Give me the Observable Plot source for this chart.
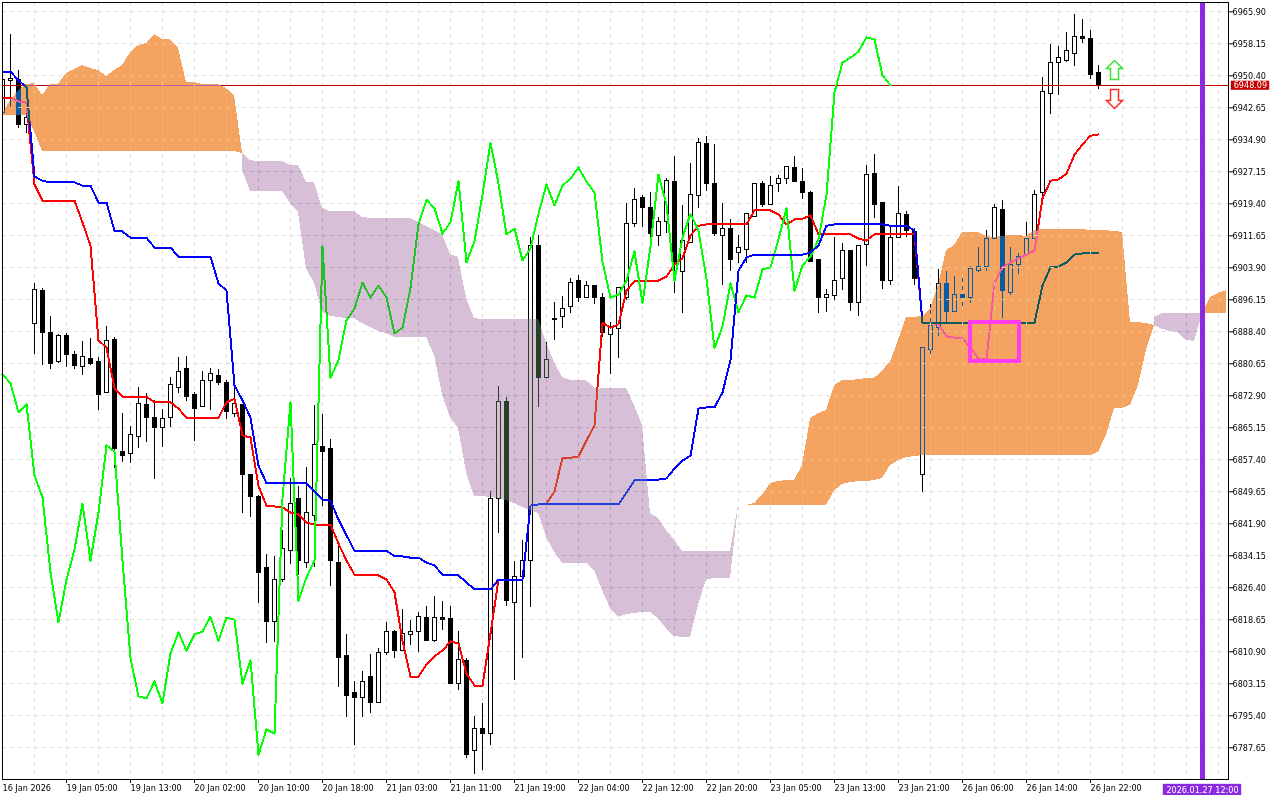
<!DOCTYPE html>
<html>
<head>
<meta charset="utf-8">
<script src="https://cdn.jsdelivr.net/npm/d3@7"></script>
<script src="https://cdn.jsdelivr.net/npm/@observablehq/plot@0.6"></script>
<style>html,body{margin:0;padding:0;background:#fff}svg{display:block}</style>
</head>
<body>
<div id="chart"></div>
<script>
const opens=[6941.5,6949.1,6949.3,6938.6,6890.2,6898.4,6888.2,6881.0,6887.3,6882.9,
6879.8,6881.9,6881.0,6873.5,6886.3,6859.4,6858.9,6863.0,6870.6,6867.6,
6865.2,6867.6,6874.9,6879.3,6873.2,6870.1,6876.4,6877.8,6876.1,6868.6,
6870.6,6853.8,6848.5,6831.1,6818.0,6828.2,6835.2,6847.8,6832.5,6843.9,
6860.6,6859.9,6832.3,6809.8,6800.8,6799.8,6804.9,6798.6,6810.7,6815.8,
6811.2,6814.9,6815.6,6819.2,6813.4,6819.2,6818.9,6803.2,6808.6,6786.8,
6792.3,6791.1,6847.8,6871.3,6822.8,6828.9,6833.0,6909.3,6877.3,6891.5,
6891.9,6894.3,6900.6,6896.7,6899.4,6896.7,6887.7,6889.2,6896.7,6914.6,
6920.9,6918.5,6911.7,6914.9,6924.8,6903.0,6909.8,6921.2,6934.0,6924.3,
6911.5,6913.2,6907.4,6908.3,6916.3,6924.3,6919.2,6924.1,6925.3,6928.0,
6924.8,6922.1,6905.9,6896.7,6897.0,6901.3,6907.9,6895.3,6909.5,6926.7,
6919.5,6900.8,6911.2,6916.8,6912.5,6853.6,6884.1,6889.4,6899.9,6893.1,
6897.2,6896.7,6903.2,6904.0,6910.8,6918.0,6897.9,6904.7,6906.9,6910.8,
6921.9,6946.1,6953.4,6954.1,6955.8,6959.7,6959.4,6951.2];
const highs=[6950.0,6960.4,6951.7,6941.3,6900.1,6898.9,6892.1,6887.7,6888.0,6883.6,
6886.1,6886.8,6882.2,6889.7,6887.0,6868.6,6865.5,6874.9,6873.5,6871.8,
6869.6,6877.3,6882.2,6882.4,6873.7,6878.8,6879.5,6879.3,6876.6,6875.2,
6870.6,6853.8,6848.8,6834.5,6834.0,6840.3,6852.9,6851.0,6855.5,6870.6,
6868.4,6862.3,6837.1,6815.1,6803.7,6806.1,6810.2,6811.7,6818.0,6816.1,
6821.1,6818.5,6820.4,6821.9,6824.3,6823.1,6821.9,6815.8,6809.3,6795.2,
6798.4,6849.7,6875.2,6872.5,6832.8,6837.9,6911.2,6911.7,6885.8,6895.5,
6897.0,6901.3,6902.0,6900.6,6899.6,6897.7,6890.6,6899.1,6919.5,6923.1,
6921.4,6922.1,6916.1,6925.5,6930.9,6919.0,6929.2,6935.2,6935.7,6933.8,
6919.5,6915.6,6911.7,6917.0,6924.3,6924.8,6926.0,6926.3,6928.2,6930.9,
6928.0,6922.4,6905.9,6898.6,6911.2,6909.8,6908.1,6909.1,6928.7,6931.3,
6919.5,6914.1,6923.6,6917.5,6913.4,6884.4,6895.0,6903.5,6903.0,6901.8,
6901.3,6904.2,6908.8,6912.9,6919.2,6920.2,6908.8,6907.4,6914.9,6922.6,
6950.0,6958.0,6957.5,6960.9,6965.3,6964.0,6961.4,6952.9];
const lows=[6940.8,6942.7,6937.6,6936.4,6882.9,6880.2,6879.3,6880.7,6879.8,6879.3,
6877.8,6880.2,6869.3,6873.5,6855.3,6856.7,6856.5,6860.1,6861.6,6852.6,
6860.4,6865.2,6873.5,6871.5,6861.8,6870.1,6869.3,6875.4,6867.2,6867.6,
6844.4,6843.4,6822.6,6812.9,6813.2,6827.7,6832.0,6829.4,6831.1,6831.3,
6846.1,6826.7,6802.2,6795.0,6788.2,6795.0,6795.9,6798.6,6810.0,6809.3,
6811.2,6812.4,6810.7,6813.6,6813.2,6816.1,6803.2,6801.5,6785.1,6781.2,
6782.2,6788.2,6839.5,6821.9,6803.9,6809.3,6821.6,6870.1,6877.3,6886.3,
6889.2,6892.8,6895.5,6896.7,6895.0,6887.0,6878.1,6881.9,6896.0,6913.7,
6913.7,6911.2,6909.1,6912.2,6897.7,6892.8,6909.8,6918.3,6922.4,6911.5,
6899.6,6903.0,6904.9,6904.9,6916.3,6918.5,6919.2,6922.1,6924.1,6924.6,
6920.4,6905.4,6892.8,6893.1,6896.0,6898.4,6893.3,6892.1,6904.2,6915.8,
6898.6,6899.6,6911.0,6911.2,6899.6,6849.5,6881.9,6887.3,6890.6,6893.1,
6894.3,6895.3,6902.8,6903.0,6910.8,6891.6,6897.2,6902.3,6906.9,6910.8,
6920.9,6941.0,6945.6,6953.6,6952.6,6958.2,6949.5,6947.1];
const closes=[6949.5,6949.6,6938.6,6940.3,6898.6,6888.2,6880.7,6887.5,6882.7,6880.0,
6882.2,6880.7,6873.2,6886.1,6859.9,6858.4,6863.5,6870.8,6867.6,6865.0,
6867.2,6875.4,6878.6,6872.7,6869.6,6876.4,6878.1,6875.9,6868.9,6870.8,
6853.6,6848.3,6830.1,6818.0,6828.4,6835.7,6846.8,6833.0,6844.6,6860.9,
6859.4,6833.0,6809.3,6800.1,6799.6,6803.7,6798.4,6810.5,6815.6,6811.2,
6815.1,6815.8,6819.4,6813.6,6819.2,6818.7,6803.2,6808.8,6786.0,6792.1,
6791.1,6848.0,6871.3,6823.3,6828.9,6833.0,6909.1,6877.3,6881.5,6891.2,
6894.0,6900.3,6896.7,6899.6,6896.7,6888.0,6889.4,6899.1,6914.4,6920.4,
6918.3,6912.2,6914.9,6925.0,6905.2,6910.3,6921.6,6934.2,6924.3,6912.0,
6913.4,6905.7,6908.6,6917.0,6924.1,6919.0,6923.8,6925.5,6928.2,6924.8,
6922.1,6905.4,6896.7,6897.4,6900.8,6907.9,6895.3,6909.1,6926.5,6919.2,
6900.8,6911.2,6917.0,6912.9,6901.3,6884.4,6889.7,6900.1,6893.1,6897.2,
6896.7,6903.5,6904.0,6910.8,6918.3,6898.2,6904.5,6906.6,6910.8,6921.6,
6946.4,6953.6,6954.8,6956.3,6959.7,6959.2,6950.5,6948.09];

const tenkan=[6945.1,6945.1,6944.2,6943.9,6924.1,6920.2,6920.2,6920.2,6920.2,6920.2,
6914.9,6909.3,6886.3,6884.6,6874.7,6872.7,6872.7,6872.7,6872.7,6871.3,
6871.3,6871.3,6869.8,6867.6,6867.6,6867.6,6867.6,6867.6,6871.3,6872.2,
6863.3,6862.8,6851.0,6846.3,6846.1,6845.9,6844.6,6844.2,6842.2,6841.7,
6841.7,6841.7,6837.1,6833.0,6829.6,6829.6,6829.4,6829.4,6828.4,6825.3,
6813.6,6804.9,6804.9,6807.8,6809.8,6811.2,6813.4,6812.9,6805.6,6802.7,
6802.7,6815.3,6828.4,6828.4,6828.4,6828.4,6846.3,6846.6,6846.8,6849.7,
6857.9,6857.9,6858.2,6862.1,6865.7,6890.6,6889.4,6890.2,6898.4,6900.6,
6900.8,6900.8,6900.8,6901.8,6904.7,6906.2,6911.7,6914.1,6914.4,6914.4,
6914.4,6914.4,6914.4,6914.4,6917.8,6917.8,6917.8,6916.8,6914.4,6915.6,
6915.8,6916.6,6912.0,6912.0,6912.0,6912.0,6912.0,6911.0,6910.5,6912.0,
6912.0,6912.0,6912.0,6912.0,6912.0,6890.6,6890.6,6890.2,6887.3,6887.0,
6886.8,6884.6,6881.9,6881.7,6900.3,6904.0,6905.2,6906.2,6907.1,6908.1,
6920.7,6925.0,6925.3,6926.7,6931.3,6933.8,6935.9,6936.2];
const kijun=[6951.4,6951.4,6949.3,6947.6,6926.0,6925.0,6924.6,6924.6,6924.6,6924.6,
6923.8,6923.8,6919.7,6919.7,6912.9,6912.7,6911.2,6911.2,6911.2,6908.8,
6908.8,6908.8,6906.6,6906.6,6906.6,6906.6,6906.6,6900.1,6898.4,6875.4,
6871.8,6867.6,6856.0,6851.7,6851.7,6851.7,6851.7,6851.7,6851.7,6849.7,
6847.8,6847.5,6842.9,6839.1,6835.4,6835.4,6835.4,6835.4,6835.4,6834.0,
6834.0,6833.7,6833.7,6832.5,6831.8,6829.6,6829.4,6829.4,6827.7,6826.0,
6826.0,6826.0,6828.4,6828.4,6828.4,6828.4,6846.3,6846.6,6846.6,6846.6,
6846.6,6846.6,6846.6,6846.6,6846.6,6846.6,6846.6,6846.6,6849.5,6852.4,
6852.6,6852.6,6852.6,6852.9,6855.3,6857.2,6858.4,6869.8,6870.1,6870.1,
6873.7,6881.5,6903.2,6906.4,6907.1,6907.1,6907.1,6907.1,6907.1,6907.1,
6907.1,6907.6,6909.3,6914.1,6914.4,6914.4,6914.4,6914.4,6914.4,6914.4,
6914.4,6914.1,6914.1,6914.1,6912.9,6890.6,6890.6,6890.6,6890.6,6890.6,
6890.6,6890.6,6890.6,6890.6,6890.6,6890.6,6890.6,6890.6,6890.6,6890.6,
6899.6,6904.0,6904.2,6905.2,6907.1,6907.4,6907.4,6907.4];

const sandStart=0;
const sandUpper=[6941.0,6944.4,6946.8,6948.3,6948.5,6945.6,6948.3,6948.3,6951.0,6951.9,6952.9,6952.2,6951.7,6950.2,6951.7,6952.9,6956.0,6957.7,6958.2,6960.4,6959.2,6959.2,6957.0,6948.8,6948.8,6948.3,6948.3,6948.3,6947.3,6945.6,6931.6];
const sandLower=[6940.8,6940.8,6940.8,6940.8,6936.9,6932.1,6932.1,6932.1,6932.1,6932.1,6932.1,6932.1,6932.1,6932.1,6932.1,6932.1,6932.1,6932.1,6932.1,6932.1,6932.1,6932.1,6932.1,6932.1,6932.1,6932.1,6932.1,6932.1,6932.1,6932.1,6931.6];
const thistleStart=30;
const thistleUpper=[6931.6,6929.9,6929.6,6929.6,6929.6,6929.6,6928.7,6928.7,6924.6,6924.6,6918.3,6917.5,6917.5,6917.5,6917.5,6916.1,6915.8,6915.8,6915.8,6915.8,6915.8,6915.8,6914.9,6913.9,6912.9,6912.0,6907.1,6906.4,6896.5,6891.6,
6891.4,6891.4,6891.4,6891.4,6891.4,6891.4,6891.4,6891.4,6885.6,6881.0,6877.3,6876.6,6876.6,6876.6,6874.7,6874.7,6874.7,6874.7,6874.7,6870.6,6865.7,6844.4,6843.2,6840.3,6837.9,6835.2,6835.2,6835.2,6835.2,6835.2,6835.2,6835.2,6846.3];
const thistleLower=[6927.5,6922.4,6922.4,6922.4,6922.4,6922.4,6919.5,6917.3,6903.7,6900.1,6893.1,6892.1,6891.9,6891.6,6891.6,6890.4,6889.4,6888.5,6888.0,6887.0,6887.0,6887.0,6887.0,6887.0,6882.7,6873.0,6867.6,6865.0,6854.3,6848.5,
6848.5,6848.3,6848.0,6847.5,6846.8,6845.9,6845.1,6844.4,6838.6,6835.0,6832.3,6832.3,6832.3,6832.3,6830.6,6825.7,6821.4,6819.2,6819.9,6820.2,6820.4,6820.4,6818.9,6816.5,6814.6,6814.4,6814.4,6822.1,6828.4,6828.6,6828.6,6828.6,6846.3];
const sand2Start=92;
const sand2Upper=[6846.3,6846.3,6846.8,6848.8,6851.7,6852.1,6852.4,6852.4,6856.0,6867.4,6868.6,6869.3,6875.4,6876.6,6876.6,6876.8,6877.1,6877.1,6879.0,6881.0,6886.3,6891.9,6891.9,6892.1,6894.0,6899.6,6908.1,6909.3,6912.5,6912.5,6912.5,6911.5,6911.2,6911.5,6911.7,6911.7,6911.5,6912.9,6913.2,6913.2,6913.2,6913.2,6913.2,6913.2,6912.9,6912.9,6912.9,6912.7,6912.5,6890.6,6890.6,6890.4,6889.9];
const sand2Lower=[6846.3,6846.3,6846.3,6846.3,6846.3,6846.3,6846.3,6846.3,6846.3,6846.3,6846.3,6846.3,6849.9,6851.4,6851.9,6852.1,6852.1,6852.4,6852.9,6856.0,6857.2,6857.9,6858.2,6858.4,6858.4,6858.4,6858.4,6858.4,6858.4,6858.4,6858.4,6858.4,6858.4,6858.4,6858.4,6858.4,6858.4,6858.4,6858.4,6858.4,6858.4,6858.4,6858.4,6858.4,6858.4,6859.2,6863.3,6869.8,6869.8,6870.6,6875.4,6883.9,6889.9];
const thistle2Start=144;
const thistle2Upper=[6891.9,6892.8,6892.8,6892.8,6892.8,6892.8,6892.8];
const thistle2Lower=[6889.9,6889.0,6888.5,6888.2,6886.3,6886.1,6892.8];
const sand3Start=150;
const sand3Upper=[6892.8,6896.7,6897.7,6898.4];
const sand3Lower=[6892.8,6892.8,6892.8,6892.8];

const priceTicks=[6965.90,6958.15,6950.40,6942.65,6934.90,6927.15,6919.40,6911.65,6903.90,6896.15,6888.40,6880.65,6872.90,6865.15,6857.40,6849.65,6841.90,6834.15,6826.40,6818.65,6810.90,6803.15,6795.40,6787.65];
const timeTickBars=[0,8,16,24,32,40,48,56,64,72,80,88,96,104,112,120,128,136];
const timeTickLabels=["16 Jan 2026","19 Jan 05:00","19 Jan 13:00","20 Jan 02:00","20 Jan 10:00","20 Jan 18:00","21 Jan 03:00","21 Jan 11:00","21 Jan 19:00","22 Jan 04:00","22 Jan 12:00","22 Jan 20:00","23 Jan 05:00","23 Jan 13:00","23 Jan 21:00","26 Jan 06:00","26 Jan 14:00","26 Jan 22:00"];
const gridBars=d3.range(4,153,4);
const lastPrice=6948.09;
const cursorBar=150;
const cursorLabel="2026.01.27 12:00";

const candles=opens.map((o,i)=>({bar:i,open:o,high:highs[i],low:lows[i],close:closes[i]}));
const series=a=>a.map((v,i)=>({bar:i,value:v}));
const chikou=series(closes.slice(26));
const cloud=(start,up,lo)=>up.map((u,i)=>({bar:start+i,upper:u,lower:lo[i]}));
const XOR_SAND="#0B5B9F", XOR_THISTLE="#274027";
const clouds=[
  [cloud(sandStart,sandUpper,sandLower),XOR_SAND,"kumo-sand"],
  [cloud(thistleStart,thistleUpper,thistleLower),XOR_THISTLE,"kumo-thistle"],
  [cloud(sand2Start,sand2Upper,sand2Lower),XOR_SAND,"kumo-sand"],
  [cloud(thistle2Start,thistle2Upper,thistle2Lower),XOR_THISTLE,"kumo-thistle"],
  [cloud(sand3Start,sand3Upper,sand3Lower),XOR_SAND,"kumo-sand"]
];
const arrow=(pts)=>({draw(ctx,size){const r=Math.sqrt(size/Math.PI);pts.forEach(([a,b],k)=>k?ctx.lineTo(a*r,b*r):ctx.moveTo(a*r,b*r));ctx.closePath();}});
const upArrow=arrow([[0,-.95],[.8,-.15],[.4,-.15],[.4,.95],[-.4,.95],[-.4,-.15],[-.8,-.15]]);
const downArrow=arrow([[0,.95],[.8,.15],[.4,.15],[.4,-.95],[-.4,-.95],[-.4,.15],[-.8,.15]]);
const crisp={shapeRendering:"crispEdges"};
const gridOver={stroke:"#EDBD79",strokeDasharray:"4,4",mixBlendMode:"lighten",ariaDescription:"grid-over-sand",...crisp};

const chart=Plot.plot({
  width:1280,height:800,marginLeft:2,marginTop:2,marginRight:52,marginBottom:21,
  style:{background:"#fff",fontFamily:"'DejaVu Sans Condensed','DejaVu Sans'",fontSize:"9px",color:"#000"},
  x:{domain:[0,153.25],range:[2,1228],axis:null},
  y:{domain:[6779.97,6968.16],range:[779,2],axis:null},
  marks:[
    Plot.frame({fill:"#fff",stroke:null}),
    Plot.ruleX(gridBars,{x:d=>d,stroke:"#e2e2e2",strokeDasharray:"4,4",...crisp}),
    Plot.ruleY(priceTicks,{y:d=>d,stroke:"#e2e2e2",strokeDasharray:"4,4",...crisp}),
    Plot.ruleX(candles,{x:"bar",y1:"low",y2:"high",stroke:"#000",clip:true,...crisp}),
    Plot.rect(candles,{x1:d=>d.bar-.25,x2:d=>d.bar+.25,y1:"open",y2:"close",fill:d=>d.close<d.open?"#000":"#fff",stroke:"#000",clip:true,...crisp}),
    Plot.ruleY([lastPrice],{stroke:"#c00000",...crisp}),
    Plot.line(series(tenkan),{x:"bar",y:"value",stroke:"#ff0000",strokeWidth:2,...crisp}),
    Plot.line(chikou,{x:"bar",y:"value",stroke:"#00ff00",strokeWidth:2,...crisp}),
    Plot.line(series(kijun),{x:"bar",y:"value",stroke:"#0000ff",strokeWidth:2,...crisp}),
    ...clouds.map(([rows,fill,ariaDescription])=>Plot.areaY(rows,{x:"bar",y1:"lower",y2:"upper",fill,ariaDescription,mixBlendMode:"difference",...crisp})),
    Plot.ruleX(gridBars,{x:d=>d,...gridOver}),
    Plot.ruleY(priceTicks,{y:d=>d,...gridOver}),
    Plot.rect([{x1:121,x2:127.1,y1:6881.2,y2:6890.6}],{x1:"x1",x2:"x2",y1:"y1",y2:"y2",fill:"none",stroke:"#ff3cf0",strokeWidth:4,...crisp}),
    Plot.dot([{bar:139,price:6951.8}],{x:"bar",y:"price",r:10,symbol:upArrow,fill:"#fff",stroke:"#3ae23a"}),
    Plot.dot([{bar:139,price:6944.8}],{x:"bar",y:"price",r:10,symbol:downArrow,fill:"#fff",stroke:"#ff2a2a"}),
    Plot.ruleX([cursorBar],{stroke:"#8a2be2",strokeWidth:5,...crisp}),
    Plot.frame({stroke:"#000",...crisp}),
    Plot.axisY({anchor:"right",ticks:priceTicks,tickFormat:d=>d.toFixed(2),tickSize:4,tickPadding:0,stroke:"#000",fill:"#000",label:null}),
    Plot.axisX({anchor:"bottom",ticks:timeTickBars.slice(1),tickFormat:()=>"",tickSize:4,stroke:"#000",label:null}),
    Plot.text(timeTickLabels,{x:(d,i)=>timeTickBars[i],frameAnchor:"bottom",dy:11,dx:0,textAnchor:"start",text:d=>d,fill:"#000"}),
    Plot.rect([lastPrice],{x1:153.6,x2:158.4,y1:6946.9,y2:6949.1,fill:"#c40000"}),
    Plot.text([lastPrice],{x:153.9,y:lastPrice,text:d=>d.toFixed(2),fill:"#fff",textAnchor:"start"}),
    Plot.rect([cursorLabel],{x1:145.1,x2:154.9,y1:6776.1,y2:6778.8,fill:"#8a2be2"}),
    Plot.text([cursorLabel],{x:cursorBar,y:6777.4,text:d=>d,fill:"#fff"})
  ]
});
// The lighter dashes only show inside the sand cloud: clip the overlay grid to its outline.
const svg=d3.select(chart);
const clip=svg.append("defs").append("clipPath").attr("id","sand-outline").attr("clipPathUnits","userSpaceOnUse");
svg.selectAll("g[aria-description='kumo-sand'] path").each(function(){clip.append("path").attr("d",this.getAttribute("d"));});
svg.selectAll("g[aria-description='grid-over-sand'] line").attr("clip-path","url(#sand-outline)");
document.getElementById("chart").appendChild(chart);
</script>
</body>
</html>
